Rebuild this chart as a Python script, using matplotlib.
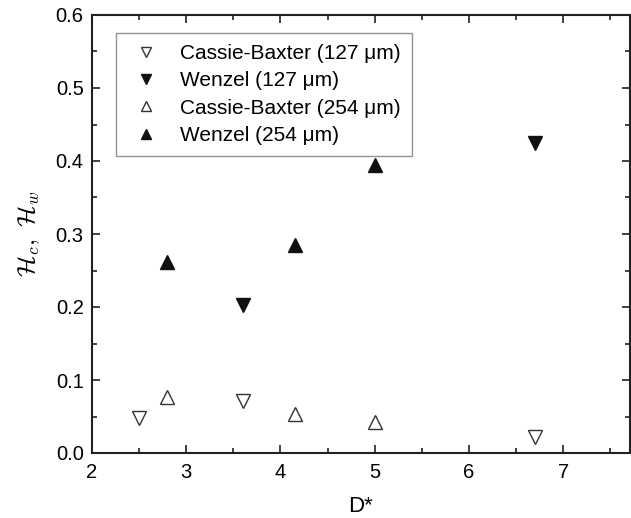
import matplotlib
matplotlib.use("Agg")
import matplotlib.pyplot as plt
from matplotlib.ticker import MultipleLocator

plt.rcParams['font.family'] = ['Liberation Sans', 'DejaVu Sans']
plt.rcParams['mathtext.fontset'] = 'cm'

# Data
cb127_x = [2.5, 3.6, 6.7]
cb127_y = [0.048, 0.071, 0.022]
w127_x = [3.6, 6.7]
w127_y = [0.203, 0.425]
cb254_x = [2.8, 4.15, 5.0]
cb254_y = [0.077, 0.054, 0.042]
w254_x = [2.8, 4.15, 5.0]
w254_y = [0.262, 0.285, 0.395]

labels = ["Cassie-Baxter (127 \u03bcm)", "Wenzel (127 \u03bcm)",
          "Cassie-Baxter (254 \u03bcm)", "Wenzel (254 \u03bcm)"]

fig = plt.figure(figsize=(6.31, 5.18), dpi=100)
ax = fig.add_axes([92/631, 65/518, 538/631, 438/518])

ms = 9.5
ax.plot(cb127_x, cb127_y, linestyle='none', marker='v', ms=ms, mfc='white', mec='#333333', mew=1.0, label=labels[0])
ax.plot(w127_x, w127_y, linestyle='none', marker='v', ms=ms, mfc='#111111', mec='#111111', mew=1.0, label=labels[1])
ax.plot(cb254_x, cb254_y, linestyle='none', marker='^', ms=ms, mfc='white', mec='#333333', mew=1.0, label=labels[2])
ax.plot(w254_x, w254_y, linestyle='none', marker='^', ms=ms, mfc='#111111', mec='#111111', mew=1.0, label=labels[3])

ax.set_xlim(2, 7.71)
ax.set_ylim(0, 0.6)
ax.xaxis.set_major_locator(MultipleLocator(1))
ax.xaxis.set_minor_locator(MultipleLocator(0.5))
ax.yaxis.set_major_locator(MultipleLocator(0.1))
ax.yaxis.set_minor_locator(MultipleLocator(0.05))
ax.yaxis.set_major_formatter(matplotlib.ticker.FormatStrFormatter('%.1f'))

ax.tick_params(which='both', direction='in', top=True, right=True, labelsize=14.5, width=1.2, color='#222222')
ax.tick_params(which='major', length=6)
ax.tick_params(which='minor', length=3.5)
ax.tick_params(axis='x', pad=7)
ax.tick_params(axis='y', pad=6)
for s in ax.spines.values():
    s.set_linewidth(1.5)
    s.set_color('#222222')

ax.set_xlabel('D*', fontsize=16, labelpad=10)
ax.set_ylabel(r'$\mathcal{H}_c,\ \mathcal{H}_w$', fontsize=18, labelpad=10)

leg = ax.legend(loc='upper left', bbox_to_anchor=(0.045, 0.96), fontsize=15, frameon=True,
                fancybox=False, edgecolor='#777777', handletextpad=0.7, borderpad=0.55,
                labelspacing=0.4, handlelength=1.8, markerscale=0.8, borderaxespad=0)
leg.get_frame().set_linewidth(1.0)

fig.savefig('out.png', dpi=100)
